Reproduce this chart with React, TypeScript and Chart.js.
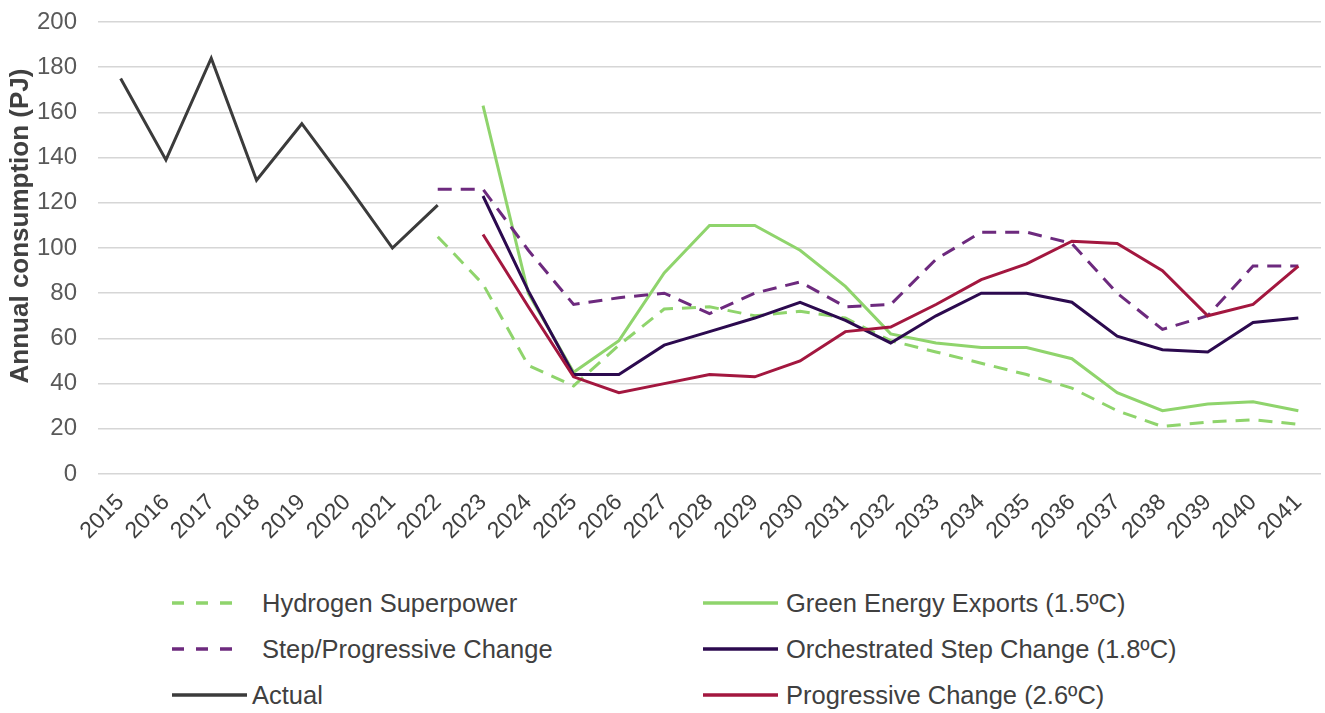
import React, { useEffect, useRef } from "react";
import { Chart, registerables } from "chart.js";

Chart.register(...registerables);

const years = [
  "2015", "2016", "2017", "2018", "2019", "2020", "2021", "2022", "2023", "2024",
  "2025", "2026", "2027", "2028", "2029", "2030", "2031", "2032", "2033", "2034",
  "2035", "2036", "2037", "2038", "2039", "2040", "2041",
];

const N = null;
const actual = [175, 139, 184, 130, 155, 128, 100, 119, N, N, N, N, N, N, N, N, N, N, N, N, N, N, N, N, N, N, N];
const hydrogenSuperpower = [N, N, N, N, N, N, N, 105, 84, 48, 39, 57, 73, 74, 70, 72, 69, 59, 54, 49, 44, 38, 28, 21, 23, 24, 22];
const stepProgressive = [N, N, N, N, N, N, N, 126, 126, 99, 75, 78, 80, 71, 80, 85, 74, 75, 95, 107, 107, 102, 80, 64, 70, 92, 92];
const greenEnergyExports = [N, N, N, N, N, N, N, N, 163, 80, 45, 59, 89, 110, 110, 99, 83, 62, 58, 56, 56, 51, 36, 28, 31, 32, 28];
const orchestratedStep = [N, N, N, N, N, N, N, N, 123, 81, 44, 44, 57, 63, 69, 76, 68, 58, 70, 80, 80, 76, 61, 55, 54, 67, 69];
const progressiveChange = [N, N, N, N, N, N, N, N, 106, 74, 43, 36, 40, 44, 43, 50, 63, 65, 75, 86, 93, 103, 102, 90, 70, 75, 92];

const yTicks = [0, 20, 40, 60, 80, 100, 120, 140, 160, 180, 200];
const yTitle = "Annual consumption (PJ)";

const C_GREEN = "#8fd46c";
const C_PURPLE_DASH = "#6d2a7e";
const C_DARK_PURPLE = "#2c0a4f";
const C_CRIMSON = "#a3173f";
const C_ACTUAL = "#3b3b3b";
const DASH = [14, 9];
const FONT = "'Liberation Sans', Arial, sans-serif";

const legendItems = [
  { label: "Hydrogen Superpower", color: C_GREEN, dashed: true, col: 0, row: 0 },
  { label: "Green Energy Exports (1.5ºC)", color: C_GREEN, dashed: false, col: 1, row: 0 },
  { label: "Step/Progressive Change", color: C_PURPLE_DASH, dashed: true, col: 0, row: 1 },
  { label: "Orchestrated Step Change (1.8ºC)", color: C_DARK_PURPLE, dashed: false, col: 1, row: 1 },
  { label: "Actual", color: C_ACTUAL, dashed: false, col: 0, row: 2 },
  { label: "Progressive Change (2.6ºC)", color: C_CRIMSON, dashed: false, col: 1, row: 2 },
];

export default function App() {
  const ref = useRef<HTMLCanvasElement | null>(null);

  useEffect(() => {
    if (!ref.current) return;
    const mk = (label: string, data: (number | null)[], color: string, dashed: boolean) => ({
      label,
      data,
      borderColor: color,
      backgroundColor: color,
      borderWidth: 3,
      borderDash: dashed ? DASH : [],
      pointRadius: 0,
      tension: 0,
      spanGaps: false,
      fill: false,
    });
    const chart = new Chart(ref.current, {
      type: "line",
      data: {
        labels: years,
        datasets: [
          mk("Progressive Change (2.6ºC)", progressiveChange, C_CRIMSON, false),
          mk("Orchestrated Step Change (1.8ºC)", orchestratedStep, C_DARK_PURPLE, false),
          mk("Step/Progressive Change", stepProgressive, C_PURPLE_DASH, true),
          mk("Green Energy Exports (1.5ºC)", greenEnergyExports, C_GREEN, false),
          mk("Hydrogen Superpower", hydrogenSuperpower, C_GREEN, true),
          mk("Actual", actual, C_ACTUAL, false),
        ],
      },
      options: {
        animation: false,
        responsive: false,
        maintainAspectRatio: false,
        layout: { padding: { top: 22, right: 4, left: 0, bottom: 0 } },
        plugins: { legend: { display: false }, tooltip: { enabled: false } },
        scales: {
          x: {
            offset: true,
            grid: { display: false, drawTicks: false },
            border: { display: false },
            ticks: {
              minRotation: 45,
              maxRotation: 45,
              autoSkip: false,
              color: "#404040",
              font: { family: FONT, size: 23 },
              padding: 15,
            },
            afterFit: (s: any) => {
              s.height = 86;
              s.paddingLeft = 0;
              s.paddingRight = 0;
            },
          },
          y: {
            min: 0,
            max: 200,
            afterBuildTicks: (s: any) => {
              s.ticks = yTicks.map((v) => ({ value: v }));
            },
            grid: { color: "#d6d6d6", lineWidth: 1.5, drawTicks: true, tickLength: 21, tickColor: "rgba(0,0,0,0)" },
            border: { display: false },
            ticks: {
              color: "#595959",
              font: { family: FONT, size: 24 },
              padding: 0,
            },
            afterFit: (s: any) => {
              s.width = 98;
            },
          },
        },
      },
    });
    return () => chart.destroy();
  }, []);

  const rowY = [603, 649, 695];

  return (
    <div style={{ position: "absolute", left: 0, top: 0, width: 1325, height: 713, background: "#fff", fontFamily: FONT }}>
      <canvas ref={ref} width={1325} height={560} style={{ position: "absolute", left: 0, top: 0, width: 1325, height: 560 }} />
      <div
        style={{
          position: "absolute",
          left: 19 - 200,
          top: 226 - 15,
          width: 400,
          height: 30,
          lineHeight: "30px",
          textAlign: "center",
          transform: "rotate(-90deg)",
          transformOrigin: "50% 50%",
          fontSize: 26,
          fontWeight: "bold",
          color: "#404040",
          whiteSpace: "nowrap",
        }}
      >
        {yTitle}
      </div>
      {legendItems.map((it) => {
        const y = rowY[it.row];
        let x: number, lineW: number, gap: number;
        if (it.col === 1) {
          x = 703; lineW = 75; gap = 8;
        } else if (it.dashed) {
          x = 172; lineW = 60; gap = 30;
        } else {
          x = 172; lineW = 75; gap = 5;
        }
        return (
          <div key={it.label} style={{ position: "absolute", left: x, top: y - 16, height: 32, display: "flex", alignItems: "center" }}>
            <svg width={lineW} height={10} style={{ display: "block" }}>
              <line
                x1={0}
                y1={5}
                x2={lineW}
                y2={5}
                stroke={it.color}
                strokeWidth={3.5}
                strokeDasharray={it.dashed ? "12 12" : undefined}
              />
            </svg>
            <span style={{ marginLeft: gap, fontSize: 25.5, color: "#404040", whiteSpace: "nowrap", lineHeight: "32px" }}>{it.label}</span>
          </div>
        );
      })}
    </div>
  );
}
